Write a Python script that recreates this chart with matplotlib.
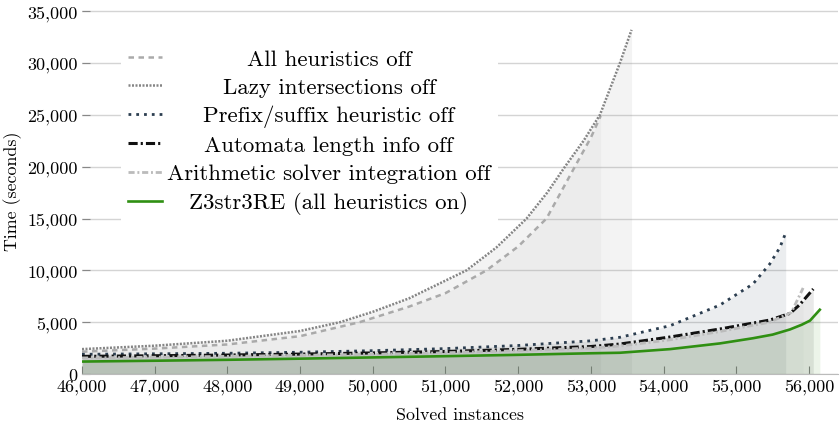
import matplotlib
matplotlib.use("Agg")
import matplotlib.pyplot as plt
from matplotlib.lines import Line2D
from matplotlib.patches import Rectangle
from matplotlib.ticker import FuncFormatter

plt.rcParams['font.family'] = ['cmr10', 'DejaVu Serif']
plt.rcParams['axes.unicode_minus'] = False

# ---------------------------------------------------------------------------
# Data
# ---------------------------------------------------------------------------
ALL_OFF_X = [46000, 47000, 48000, 49000, 49820, 50500, 51000, 51565, 52000, 52390, 52780, 53000, 53135]
ALL_OFF_Y = [2150, 2450, 2850, 3650, 5000, 6500, 7800, 10000, 12300, 15000, 20000, 22800, 24900]

LAZY_X = [46000, 47000, 48000, 49000, 49550, 50000, 50500, 51290, 51700, 52116, 52400, 52644, 52900, 53125, 53400, 53560]
LAZY_Y = [2400, 2730, 3210, 4150, 5000, 6000, 7300, 10000, 12200, 15000, 17500, 20000, 22500, 25000, 30000, 33200]

PREFIX_X = [46000, 47000, 48000, 49000, 50000, 51000, 52000, 53000, 53400, 54090, 54775, 55230, 55460, 55600, 55680]
PREFIX_Y = [1900, 1950, 2000, 2100, 2250, 2450, 2750, 3200, 3540, 4660, 6650, 8680, 10600, 12200, 13600]

AUTOMATA_X = [46000, 47000, 48000, 49000, 50000, 51000, 52000, 53000, 53400, 54090, 54775, 55460, 55740, 55875, 56060]
AUTOMATA_Y = [1700, 1760, 1830, 1920, 2030, 2170, 2380, 2650, 2890, 3570, 4340, 5200, 5850, 6700, 8200]

ARITH_X = [46000, 47000, 48000, 49000, 50000, 51000, 52000, 53000, 53400, 54090, 54775, 55460, 55760, 55920]
ARITH_Y = [1550, 1620, 1700, 1800, 1900, 2050, 2250, 2500, 2700, 3300, 4100, 5000, 5950, 8300]

Z3_X = [46000, 47000, 48000, 49000, 50000, 51000, 52000, 53000, 53400, 54090, 54775, 55230, 55500, 55740, 55900, 56015, 56150]
Z3_Y = [1200, 1280, 1370, 1480, 1600, 1720, 1850, 2000, 2050, 2400, 2950, 3450, 3800, 4300, 4750, 5150, 6200]

LABELS = ["All heuristics off", "Lazy intersections off", "Prefix/suffix heuristic off",
          "Automata length info off", "Arithmetic solver integration off", "Z3str3RE (all heuristics on)"]

SERIES = [
    (ALL_OFF_X, ALL_OFF_Y, '#aaaaaa', (0, (2.2, 1.8)), 1.8),
    (LAZY_X, LAZY_Y, '#858585', (0, (0.8, 0.6)), 1.8),
    (PREFIX_X, PREFIX_Y, '#2c3e50', (0, (1.0, 1.8)), 2.0),
    (AUTOMATA_X, AUTOMATA_Y, '#111111', (0, (3.0, 1.0, 0.7, 1.0)), 2.2),
    (ARITH_X, ARITH_Y, '#bbbbbb', (0, (2.2, 1.0, 0.7, 1.0)), 2.0),
    (Z3_X, Z3_Y, '#2f8f12', '-', 1.9),
]

# ---------------------------------------------------------------------------
# Plot
# ---------------------------------------------------------------------------
fig = plt.figure(figsize=(8.4, 4.31), dpi=100)
ax = fig.add_axes([82/840, 56/431, 756/840, 368/431])

for xs, ys, c, ls, lw in SERIES:
    ax.fill_between(xs, ys, 0, color=c, alpha=0.09, lw=0, zorder=1)
for xs, ys, c, ls, lw in SERIES:
    ax.plot(xs, ys, color=c, ls=ls, lw=lw, zorder=3)

ax.set_xlim(46000, 56400)
ax.set_ylim(0, 35500)
ax.set_xticks(range(46000, 56001, 1000))
ax.set_yticks(range(0, 35001, 5000))
fmt = FuncFormatter(lambda v, p: f"{int(v):,}")
ax.xaxis.set_major_formatter(fmt); ax.yaxis.set_major_formatter(fmt)
ax.tick_params(direction='in', length=6, width=0.8, color='#888888', labelsize=13, pad=3)
ax.grid(axis='y', color='#d4d4d4', lw=1, zorder=0)
ax.set_axisbelow(True)
for s in ('top', 'right', 'left'):
    ax.spines[s].set_visible(False)
ax.spines['bottom'].set_color('#bbbbbb')
ax.set_xlabel('Solved instances', fontsize=12.9, labelpad=9)
ax.set_ylabel('Time (seconds)', fontsize=12.9, labelpad=4)

# -- legend, drawn by hand so the labels are centred --
ax.add_patch(Rectangle((121/840, 1-222/431), 377/840, 184/431, transform=fig.transFigure,
                       facecolor='white', edgecolor='none', zorder=2))
rows_y = [58, 86, 115, 144, 173, 202]
for (xs, ys, c, ls, lw), lbl, ry in zip(SERIES, LABELS, rows_y):
    fy = 1 - ry/431
    fig.add_artist(Line2D([128/840, 162/840], [fy, fy], transform=fig.transFigure,
                          color=c, ls=ls, lw=lw, zorder=4))
    fig.text(329/840, 1 - (ry + 7.5)/431, lbl, ha='center', va='baseline', fontsize=16.5, zorder=4)

fig.savefig('out.png', dpi=100)
